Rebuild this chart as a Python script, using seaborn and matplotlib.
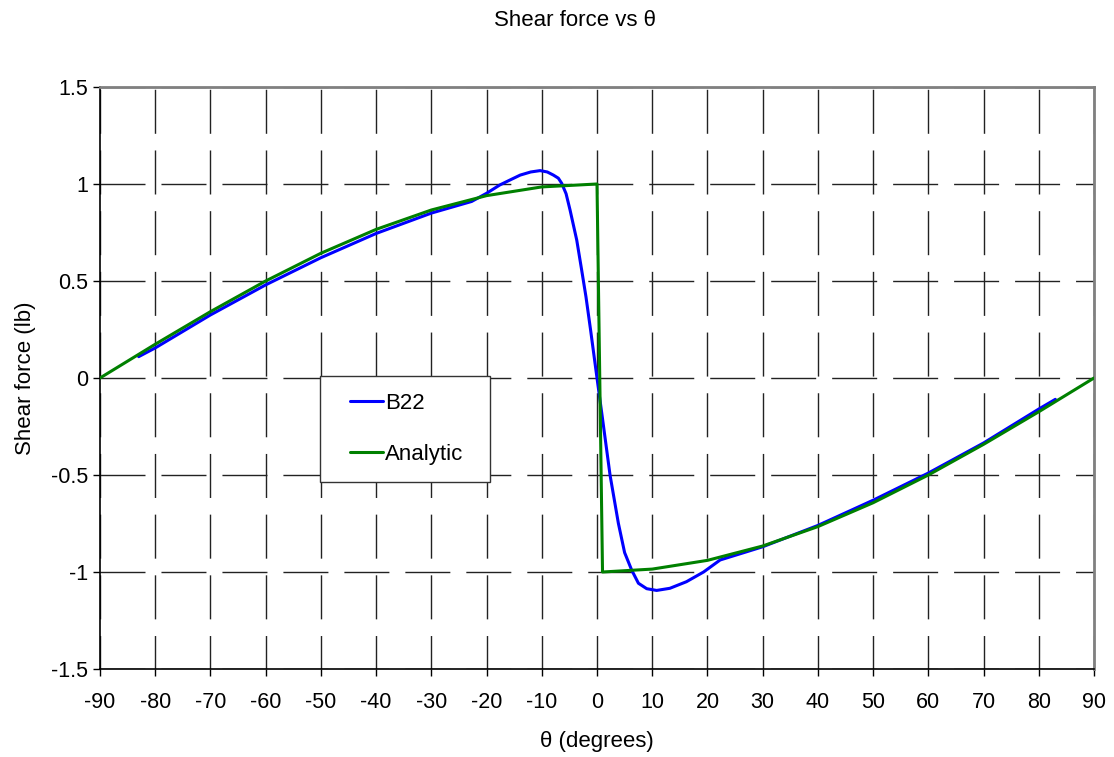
import matplotlib
matplotlib.use("Agg")
import matplotlib.pyplot as plt
from matplotlib.lines import Line2D
from matplotlib.legend_handler import HandlerLine2D
import seaborn as sns
import pandas as pd

# B22 (numerical) series
b22_theta = [-83, -80, -70, -60, -50, -40, -30, -22.7, -20, -17.6, -15.8, -13.9, -12, -10.3, -9, -7.9,
             -7, -6.4, -5.6, -4.88, -3.67, -2.78, -2.0, -1.16, 0, 1.0, 2.36, 3.87, 5.0, 6.28, 7.5, 9,
             10.8, 13.2, 16.2, 19.3, 22.3, 30, 40, 50, 60, 70, 80, 83]
b22_shear = [0.11, 0.155, 0.325, 0.48, 0.62, 0.745, 0.85, 0.91, 0.952, 0.995, 1.02, 1.046, 1.062, 1.069,
             1.062, 1.046, 1.03, 1.004, 0.95, 0.866, 0.711, 0.557, 0.419, 0.247, 0.0, -0.21, -0.5,
             -0.749, -0.90, -0.99, -1.058, -1.086, -1.095, -1.084, -1.05, -1.0, -0.938, -0.87, -0.76,
             -0.63, -0.49, -0.335, -0.16, -0.11]

# Analytic series
analytic_theta = [-90, -80, -70, -60, -50, -40, -30, -20, -10, 0, 1, 10, 20, 30, 40, 50, 60, 70, 80, 90]
analytic_shear = [0.0, 0.174, 0.342, 0.5, 0.643, 0.766, 0.866, 0.94, 0.985, 1.0, -1.0, -0.985, -0.94,
                  -0.866, -0.766, -0.643, -0.5, -0.342, -0.174, 0.0]

x_ticks = list(range(-90, 91, 10))
y_ticks = [-1.5, -1, -0.5, 0, 0.5, 1, 1.5]
y_tick_labels = ["-1.5", "-1", "-0.5", "0", "0.5", "1", "1.5"]

sns.set_theme(style="white")
plt.rcParams["font.family"] = ["Liberation Sans", "DejaVu Sans"]
plt.rcParams["axes.unicode_minus"] = False
plt.rcParams["text.color"] = "black"
plt.rcParams["axes.labelcolor"] = "black"

fig = plt.figure(figsize=(11.14, 7.57), dpi=100)
ax = fig.add_axes([100 / 1114, 1 - 669 / 757, 994 / 1114, 582 / 757])

df_b = pd.DataFrame({"theta": b22_theta, "shear": b22_shear})
df_a = pd.DataFrame({"theta": analytic_theta, "shear": analytic_shear})

sns.lineplot(data=df_b, x="theta", y="shear", ax=ax, color="#0000FF", linewidth=2.2,
             label="B22", estimator=None, sort=False, zorder=4)
sns.lineplot(data=df_a, x="theta", y="shear", ax=ax, color="#008000", linewidth=2.2,
             label="Analytic", estimator=None, sort=False, zorder=5)

ax.set_xlim(-90, 90)
ax.set_ylim(-1.5, 1.5)
ax.set_xticks(x_ticks)
ax.set_xticklabels([str(t) for t in x_ticks])
ax.set_yticks(y_ticks)
ax.set_yticklabels(y_tick_labels)

ax.xaxis.grid(True, color="#222222", linewidth=1.0, linestyle=(7.6, (31.7, 12.0)))
ax.yaxis.grid(True, color="#222222", linewidth=1.0, linestyle=(0, (32.4, 11.5)))
ax.set_axisbelow(True)

for side in ["left", "bottom"]:
    ax.spines[side].set_color("black")
    ax.spines[side].set_linewidth(1.2)
for side in ["top", "right"]:
    ax.spines[side].set_color("#808080")
    ax.spines[side].set_linewidth(2.0)
    ax.spines[side].set_visible(True)

ax.tick_params(axis="both", direction="out", length=5, width=1, color="black",
               labelsize=15.5, labelcolor="black", bottom=True, left=True)
ax.tick_params(axis="x", pad=11.5)
ax.tick_params(axis="y", pad=3.6)

ax.set_xlabel("θ (degrees)", fontsize=16, labelpad=13)
ax.set_ylabel("Shear force (lb)", fontsize=16, labelpad=11)
fig.text(575 / 1114, 1 - 20 / 757, "Shear force vs θ", ha="center", va="center", fontsize=16)

leg = ax.legend(loc="upper left", bbox_to_anchor=(0.221, 0.503, 0.171, 0.0), mode="expand",
                borderaxespad=0, fontsize=16, frameon=True, fancybox=False, edgecolor="#333333",
                framealpha=1, borderpad=0.75, labelspacing=1.35, handlelength=2.1,
                handletextpad=0.08, handler_map={Line2D: HandlerLine2D(xpad=0.6)})
leg.get_frame().set_linewidth(1.0)

fig.savefig("out.png", dpi=100)
